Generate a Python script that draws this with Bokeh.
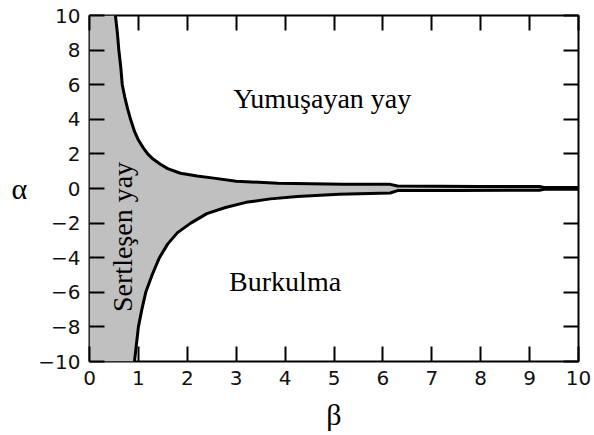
from bokeh.plotting import figure
from bokeh.models import Range1d, FixedTicker, LinearAxis, Label
from bokeh.embed import file_html
from bokeh.resources import INLINE

# Boundary curves of the stability chart (beta, alpha)
beta_upper = [0.53, 0.57, 0.60, 0.64, 0.67, 0.72, 0.78, 0.84, 0.92, 1.00, 1.10, 1.19,
              1.30, 1.45, 1.60, 1.86, 2.20, 2.54, 3.00, 3.85, 5.20, 6.15, 6.30, 8.00, 9.20, 9.30, 10.0]
alpha_upper = [10.0, 9.0, 8.0, 7.0, 6.0, 5.3, 4.6, 4.0, 3.3, 2.8, 2.35, 2.0,
               1.7, 1.4, 1.15, 0.88, 0.72, 0.60, 0.42, 0.30, 0.24, 0.24, 0.14, 0.12, 0.11, 0.06, 0.06]

beta_lower = [0.92, 0.96, 1.00, 1.07, 1.15, 1.28, 1.43, 1.60, 1.80, 2.07, 2.40, 2.78,
              3.20, 3.70, 4.25, 5.10, 6.15, 6.30, 7.50, 9.20, 9.30, 10.0]
alpha_lower = [-10.0, -9.0, -8.0, -7.0, -6.0, -5.0, -4.0, -3.2, -2.55, -2.0, -1.45, -1.1,
               -0.8, -0.6, -0.46, -0.33, -0.26, -0.12, -0.11, -0.10, -0.04, -0.04]

x_ticks = [0, 1, 2, 3, 4, 5, 6, 7, 8, 9, 10]
y_ticks = [-10, -8, -6, -4, -2, 0, 2, 4, 6, 8, 10]

X_MIN, X_MAX = 0, 10
Y_MIN, Y_MAX = -10, 10

p = figure(width=594, height=435,
           x_range=Range1d(X_MIN, X_MAX), y_range=Range1d(Y_MIN, Y_MAX),
           output_backend="svg", toolbar_location=None,
           min_border_left=89, min_border_right=16,
           min_border_top=15, min_border_bottom=74)
p.grid.visible = False
p.background_fill_color = "white"
p.border_fill_color = "white"
p.outline_line_color = "black"
p.outline_line_width = 2

# Shaded region: everything left of / between the two boundary curves
xs = [X_MIN] + beta_upper + beta_lower[::-1] + [X_MIN]
ys = [Y_MAX] + alpha_upper + alpha_lower[::-1] + [Y_MIN]
p.patch(xs, ys, fill_color="#c0c0c0", line_color=None)

p.line(beta_upper, alpha_upper, line_color="black", line_width=3)
p.line(beta_lower, alpha_lower, line_color="black", line_width=3)

tick_font = "DejaVu Sans"
serif = "Liberation Serif"


def style_axis(ax, labels=True):
    ax.axis_line_color = None
    ax.major_tick_in = 15
    ax.major_tick_out = 0
    ax.minor_tick_line_color = None
    ax.major_tick_line_color = "black"
    ax.major_tick_line_width = 2
    if labels:
        ax.major_label_text_font = tick_font
        ax.major_label_text_font_size = "20px"
        ax.major_label_text_color = "#111111"
        ax.major_label_standoff = 9
    else:
        ax.major_label_text_font_size = "0px"
        ax.major_label_text_alpha = 0


xa = p.xaxis[0]
xa.ticker = FixedTicker(ticks=x_ticks)
style_axis(xa)
xa.axis_label = "β"
xa.axis_label_text_font = serif
xa.axis_label_text_font_size = "30px"
xa.axis_label_text_font_style = "normal"
xa.axis_label_text_color = "black"
xa.axis_label_standoff = 10

ya = p.yaxis[0]
ya.ticker = FixedTicker(ticks=y_ticks)
style_axis(ya)
ya.axis_label = "α"
ya.axis_label_orientation = "horizontal"
ya.axis_label_text_font = serif
ya.axis_label_text_font_size = "30px"
ya.axis_label_text_font_style = "normal"
ya.axis_label_text_color = "black"
ya.axis_label_standoff = 8

top = LinearAxis(ticker=FixedTicker(ticks=x_ticks))
style_axis(top, labels=False)
p.add_layout(top, "above")

right = LinearAxis(ticker=FixedTicker(ticks=y_ticks))
style_axis(right, labels=False)
p.add_layout(right, "right")

# Region names
p.add_layout(Label(x=4.76, y=5.2, text="Yumuşayan yay", text_font=serif,
                   text_font_size="28px", text_align="center",
                   text_baseline="alphabetic", text_color="black"))
p.add_layout(Label(x=4.0, y=-5.35, text="Burkulma", text_font=serif,
                   text_font_size="28px", text_align="center",
                   text_baseline="alphabetic", text_color="black"))
p.add_layout(Label(x=0.68, y=-2.8, text="Sertleşen yay", text_font=serif,
                   text_font_size="28px", text_align="center",
                   text_baseline="alphabetic", angle=1.5708,
                   text_color="black"))

open("out.html", "w").write(file_html(p, INLINE))
